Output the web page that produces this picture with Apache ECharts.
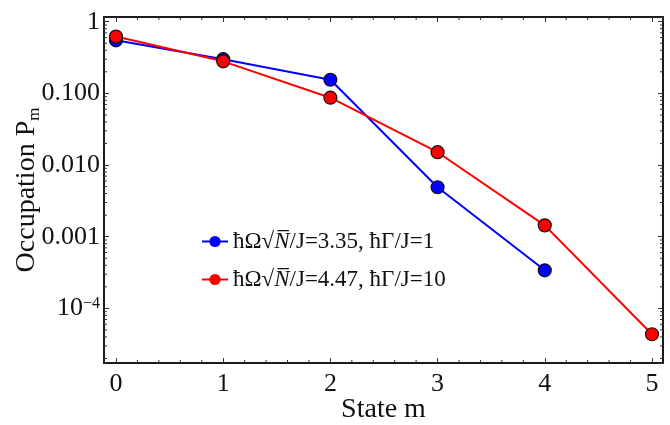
<!DOCTYPE html>
<html><head><meta charset="utf-8">
<script src="https://cdn.jsdelivr.net/npm/echarts@6/dist/echarts.min.js"></script>
<style>html,body{margin:0;padding:0;background:#fff}#c{width:670px;height:425px}</style>
</head><body><div id="c"></div>
<script>
const states = [0, 1, 2, 3, 4, 5];
const blueValues = [0.55, 0.30, 0.155, 0.0049, 0.00034];
const redValues = [0.62, 0.28, 0.087, 0.0151, 0.00144, 0.0000436];
const blueName = 'ħΩ√N/J=3.35, ħΓ/J=1';
const redName = 'ħΩ√N/J=4.47, ħΓ/J=10';
const yTickLabels = {'0': '1', '-1': '0.100', '-2': '0.010', '-3': '0.001', '-4': '10{sup|−4}'};
const xMinorTicks = [0.2,0.4,0.6,0.8,1.2,1.4,1.6,1.8,2.2,2.4,2.6,2.8,3.2,3.4,3.6,3.8,4.2,4.4,4.6,4.8];
const yMinorTicks = [2e-5,3e-5,4e-5,5e-5,6e-5,7e-5,8e-5,9e-5,
  2e-4,3e-4,4e-4,5e-4,6e-4,7e-4,8e-4,9e-4,
  2e-3,3e-3,4e-3,5e-3,6e-3,7e-3,8e-3,9e-3,
  2e-2,3e-2,4e-2,5e-2,6e-2,7e-2,8e-2,9e-2,
  0.2,0.3,0.4,0.5,0.6,0.7,0.8,0.9];

const FONT = 'Liberation Serif';
const X_MIN = -0.112, X_MAX = 5.103, Y_MIN = 1.73e-5, Y_MAX = 1.163;

const chart = echarts.init(document.getElementById('c'));
const axisLine = {onZero: false, lineStyle: {color: '#1a1a1a', width: 2}};
const majorTick = {inside: true, length: 5, lineStyle: {color: '#333', width: 1}};

function xAxisDef(pos, labels) {
  return {
    type: 'value', position: pos, min: X_MIN, max: X_MAX,
    axisLine: axisLine, axisTick: majorTick, splitLine: {show: false},
    axisLabel: {show: labels, showMinLabel: false, showMaxLabel: false, margin: 8,
      fontFamily: FONT, fontSize: 26, color: '#111',
      formatter: v => String(Math.round(v))},
    name: labels ? 'State m' : '', nameLocation: 'middle', nameGap: 33, nameMoveOverlap: false,
    nameTextStyle: {fontFamily: FONT, fontSize: 28, color: '#111'}
  };
}
function yAxisDef(pos, labels) {
  return {
    type: 'log', position: pos, min: Y_MIN, max: Y_MAX, logBase: 10,
    axisLine: axisLine, axisTick: majorTick, splitLine: {show: false},
    axisLabel: {show: labels, showMinLabel: false, showMaxLabel: false, margin: 4,
      fontFamily: FONT, fontSize: 26, color: '#111',
      formatter: v => {
        const e = Math.log10(v), r = Math.round(e);
        if (Math.abs(e - r) > 1e-6) return '';
        return yTickLabels[String(r)] || '';
      },
      rich: {sup: {fontFamily: FONT, fontSize: 16, verticalAlign: 'top', lineHeight: 26, padding: [0, 0, 12, 0], color: '#111'}}
    },
    name: labels ? 'Occupation P{sub|m}' : '', nameLocation: 'middle', nameGap: 61, nameRotate: 90, nameMoveOverlap: false,
    nameTextStyle: {fontFamily: FONT, fontSize: 28, color: '#111',
      rich: {sub: {fontFamily: FONT, fontSize: 17, verticalAlign: 'bottom', padding: [16, 0, 0, 0], color: '#111'}}}
  };
}

function pairs(xs, ys) { return ys.map((y, i) => [xs[i], y]); }

const option = {
  animation: false,
  backgroundColor: '#fff',
  grid: {left: 104, right: 7, top: 17, bottom: 62, show: false, containLabel: false, outerBoundsMode: 'none'},
  xAxis: [xAxisDef('bottom', true), xAxisDef('top', false)],
  yAxis: [yAxisDef('left', true), yAxisDef('right', false)],
  legend: {
    orient: 'vertical', left: 196, top: 225, itemGap: 15, itemWidth: 26, itemHeight: 14,
    data: [blueName, redName],
    itemStyle: {borderWidth: 0},
    textStyle: {fontFamily: FONT, fontSize: 23, color: '#111',
      rich: {i: {fontFamily: FONT, fontSize: 23, fontStyle: 'italic', color: '#111'}}},
    formatter: name => name.replace('√N', '√{i|N\u0305}')
  },
  series: [
    {name: blueName, type: 'line', data: pairs(states, blueValues),
     lineStyle: {color: '#0000ff', width: 2}, itemStyle: {color: '#0000ff', borderColor: '#111', borderWidth: 1.2},
     symbol: 'circle', symbolSize: 13, z: 3},
    {name: redName, type: 'line', data: pairs(states, redValues),
     lineStyle: {color: '#ff0000', width: 2}, itemStyle: {color: '#ff0000', borderColor: '#111', borderWidth: 1.2},
     symbol: 'circle', symbolSize: 13, z: 4},
    {type: 'custom', silent: true, data: xMinorTicks.map(v => [v, 1e-3]), encode: {x: 0, y: 1}, z: 1,
     renderItem: (params, api) => {
       const cs = params.coordSys;
       const px = api.coord([api.value(0), 1e-3])[0];
       const st = {stroke: '#333', lineWidth: 1};
       return {type: 'group', children: [
         {type: 'line', shape: {x1: px, y1: cs.y + cs.height, x2: px, y2: cs.y + cs.height - 3}, style: st},
         {type: 'line', shape: {x1: px, y1: cs.y, x2: px, y2: cs.y + 3}, style: st}
       ]};
     }},
    {type: 'custom', silent: true, data: yMinorTicks.map(v => [1, v]), encode: {x: 0, y: 1}, z: 1,
     renderItem: (params, api) => {
       const cs = params.coordSys;
       const py = api.coord([1, api.value(1)])[1];
       const st = {stroke: '#333', lineWidth: 1};
       return {type: 'group', children: [
         {type: 'line', shape: {x1: cs.x, y1: py, x2: cs.x + 3, y2: py}, style: st},
         {type: 'line', shape: {x1: cs.x + cs.width, y1: py, x2: cs.x + cs.width - 3, y2: py}, style: st}
       ]};
     }}
  ]
};
chart.setOption(option);
</script></body></html>
